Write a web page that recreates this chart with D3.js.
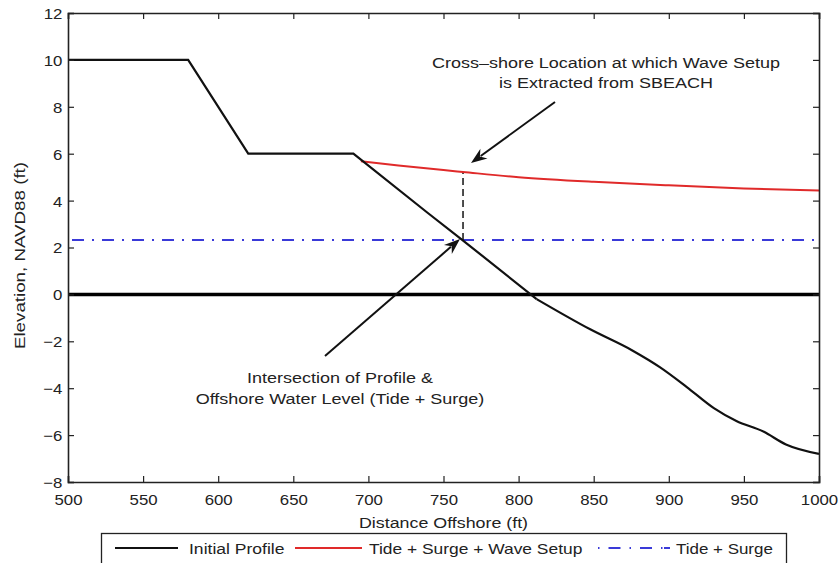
<!DOCTYPE html>
<html><head><meta charset="UTF-8">
<style>
  body { margin:0; background:#fff; }
  svg { display:block; font-family: "Liberation Sans", Arial, sans-serif; }
  .tick text { font-size:15px; fill:#222; }
</style>
</head><body>
<svg id="chart" width="839" height="563"></svg>
<script src="https://cdn.jsdelivr.net/npm/d3@7/dist/d3.min.js"></script>
<script>
// ── data ──
const profileX = [500, 580, 620, 690, 740, 762, 812, 848, 876, 894, 912, 930, 945, 963, 978, 1000];
const profileY = [10, 10, 6, 6, 3.45, 2.35, -0.2, -1.5, -2.4, -3.1, -3.95, -4.85, -5.4, -5.85, -6.4, -6.8];
const setupX = [695, 720, 750, 763, 800, 850, 900, 950, 1000];
const setupY = [5.68, 5.5, 5.3, 5.22, 5.0, 4.8, 4.65, 4.52, 4.43];
const tideSurge = 2.32;
const extractX = 763;
const xTicks = [500, 550, 600, 650, 700, 750, 800, 850, 900, 950, 1000];
const yTicks = [-8, -6, -4, -2, 0, 2, 4, 6, 8, 10, 12];
const legendLabels = ['Initial Profile', 'Tide + Surge + Wave Setup', 'Tide + Surge'];

const M = { left: 68, top: 13, right: 819, bottom: 482 };
const svg = d3.select('#chart');
const x = d3.scaleLinear().domain([500, 1000]).range([M.left, M.right]);
const y = d3.scaleLinear().domain([-8, 12]).range([M.bottom, M.top]);

const RED = '#e02a2a', BLUE = '#3a3ad8';

svg.append('clipPath').attr('id', 'clip').append('rect')
  .attr('x', M.left).attr('y', M.top).attr('width', M.right - M.left).attr('height', M.bottom - M.top);
const plot = svg.append('g').attr('clip-path', 'url(#clip)');

// zero line
plot.append('line').attr('x1', x(500)).attr('x2', x(1000)).attr('y1', y(0)).attr('y2', y(0))
  .attr('stroke', '#000').attr('stroke-width', 3.5);

// tide + surge
plot.append('line').attr('x1', x(500) + 4).attr('x2', x(1000)).attr('y1', y(tideSurge)).attr('y2', y(tideSurge))
  .attr('stroke', BLUE).attr('stroke-width', 2).attr('stroke-dasharray', '12,8,2,8');

// vertical dashed extraction line
plot.append('line').attr('x1', x(extractX)).attr('x2', x(extractX))
  .attr('y1', y(tideSurge)).attr('y2', y(5.22))
  .attr('stroke', '#222').attr('stroke-width', 1.6).attr('stroke-dasharray', '7,4');

// wave setup
plot.append('path')
  .attr('d', d3.line().x(d => x(d[0])).y(d => y(d[1])).curve(d3.curveMonotoneX)(d3.zip(setupX, setupY)))
  .attr('fill', 'none').attr('stroke', RED).attr('stroke-width', 2);

// profile: sharp corners up to the slope, smooth offshore part
const prof = d3.zip(profileX, profileY);
const cut = profileX.indexOf(812);
plot.append('path')
  .attr('d', d3.line().x(d => x(d[0])).y(d => y(d[1]))(prof.slice(0, cut + 1)))
  .attr('fill', 'none').attr('stroke', '#111').attr('stroke-width', 2.2);
plot.append('path')
  .attr('d', d3.line().x(d => x(d[0])).y(d => y(d[1])).curve(d3.curveMonotoneX)(prof.slice(cut)))
  .attr('fill', 'none').attr('stroke', '#111').attr('stroke-width', 2.2);

// axes
const axB = svg.append('g').attr('transform', `translate(0,${M.bottom})`)
  .call(d3.axisBottom(x).tickValues(xTicks).tickSize(-6).tickPadding(12).tickFormat(d3.format('d')));
const axL = svg.append('g').attr('transform', `translate(${M.left},0)`)
  .call(d3.axisLeft(y).tickValues(yTicks).tickSize(-6).tickPadding(5).tickFormat(d => d < 0 ? '\u2212' + Math.abs(d) : d));
const axT = svg.append('g').attr('transform', `translate(0,${M.top})`)
  .call(d3.axisTop(x).tickValues(xTicks).tickSize(-6).tickFormat(''));
const axR = svg.append('g').attr('transform', `translate(${M.right},0)`)
  .call(d3.axisRight(y).tickValues(yTicks).tickSize(-6).tickFormat(''));
[axB, axL, axT, axR].forEach(a => {
  a.select('.domain').attr('stroke', '#222').attr('stroke-width', 1.6);
  a.selectAll('.tick line').attr('stroke', '#222').attr('stroke-width', 1.2);
});
axL.selectAll('.tick text').attr('dy', '0.36em').attr('transform', 'scale(1.12,1)');
axB.selectAll('.tick text').attr('transform', 'scale(1.12,1)');

// stretched text helper (the original raster is a bit wider than the font)
function label(tx, ty, txt, sx, anchor = 'middle', rot = 0) {
  return svg.append('text')
    .attr('transform', `translate(${tx},${ty}) rotate(${rot}) scale(${sx},1)`)
    .attr('text-anchor', anchor).attr('font-size', 15).attr('fill', '#222').text(txt);
}
label((M.left + M.right) / 2, 528, 'Distance Offshore (ft)', 1.19);
label(25, (M.top + M.bottom) / 2 + 8, 'Elevation, NAVD88 (ft)', 1.25, 'middle', -90);

// annotations
function arrow(x1, y1, x2, y2) {
  const ang = Math.atan2(y2 - y1, x2 - x1);
  const L = 16, W = 6;
  const bx = x2 - L * Math.cos(ang), by = y2 - L * Math.sin(ang);
  svg.append('line').attr('x1', x1).attr('y1', y1).attr('x2', bx + 4 * Math.cos(ang)).attr('y2', by + 4 * Math.sin(ang))
    .attr('stroke', '#111').attr('stroke-width', 2);
  const nx = -Math.sin(ang), ny = Math.cos(ang);
  const nb = 5; // notch
  const pts = [[x2, y2], [bx + W * nx, by + W * ny], [bx + nb * Math.cos(ang), by + nb * Math.sin(ang)], [bx - W * nx, by - W * ny]];
  svg.append('polygon').attr('points', pts.map(p => p.join(',')).join(' ')).attr('fill', '#111');
}
arrow(555, 102, 471, 163);
arrow(325, 356, 460, 239);

label(606, 68, 'Cross\u2013shore Location at which Wave Setup', 1.2);
label(606, 88, 'is Extracted from SBEACH', 1.2);
label(340, 383, 'Intersection of Profile &', 1.2);
label(340, 404, 'Offshore Water Level (Tide + Surge)', 1.2);

// legend
const lg = svg.append('g');
lg.append('rect').attr('x', 101.5).attr('y', 533.5).attr('width', 685).attr('height', 40)
  .attr('fill', '#fff').attr('stroke', '#222').attr('stroke-width', 1.3);
const items = [
  { x1: 115, x2: 178, tx: 189, sx: 1.17, color: '#111', dash: null },
  { x1: 295, x2: 362, tx: 369, sx: 1.16, color: RED, dash: null },
  { x1: 598, x2: 670, tx: 676, sx: 1.13, color: BLUE, dash: '1.5,9,12,9,1.5,9,12,9,1.5' }
];
items.forEach((it, i) => {
  lg.append('line').attr('x1', it.x1).attr('x2', it.x2).attr('y1', 548).attr('y2', 548)
    .attr('stroke', it.color).attr('stroke-width', 2).attr('stroke-dasharray', it.dash);
  label(it.tx, 554, legendLabels[i], it.sx, 'start');
});
</script>
</body></html>
